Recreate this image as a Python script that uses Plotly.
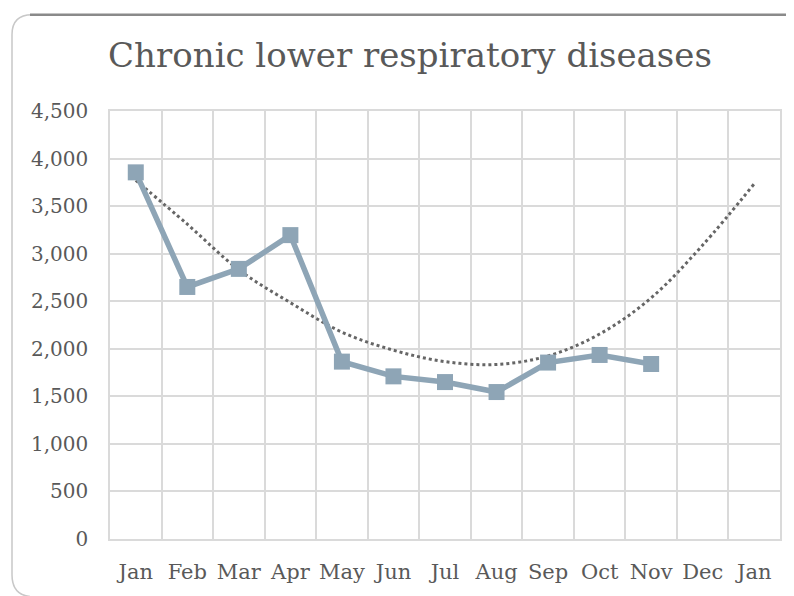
import plotly.graph_objects as go

months = ["Jan", "Feb", "Mar", "Apr", "May", "Jun", "Jul", "Aug", "Sep", "Oct", "Nov", "Dec", "Jan"]
deaths = [3855, 2650, 2840, 3195, 1865, 1710, 1650, 1545, 1855, 1935, 1840]
# polynomial trendline as drawn in the reference (read at each category)
trend = [3770, 3310, 2830, 2485, 2175, 1985, 1865, 1835, 1925, 2155, 2535, 3090, 3735]
title_text = "Chronic lower respiratory diseases"
y_ticks = [0, 500, 1000, 1500, 2000, 2500, 3000, 3500, 4000, 4500]

OFF = 8                      # page body margin
W, H = 794 - OFF, 596 - OFF
L, R, T, B = 102, 14, 103, 54
PW, PH = W - L - R, H - T - B

def px(xs):                  # screen pixel -> paper x
    return (xs - OFF - L) / PW

def py(ys):                  # screen pixel -> paper y
    return (H - B - (ys - OFF)) / PH

fig = go.Figure()
fig.add_trace(go.Scatter(x=list(range(len(trend))), y=trend, mode="lines",
                         line=dict(color="#666666", width=3, dash="dot", shape="spline", smoothing=1.0),
                         hoverinfo="skip", showlegend=False))
fig.add_trace(go.Scatter(x=list(range(len(deaths))), y=deaths, mode="lines+markers",
                         line=dict(color="#8ea5b6", width=5.5),
                         marker=dict(symbol="square", size=16, color="#8ea5b6"),
                         showlegend=False))

grid = "#dadada"
fig.update_layout(
    width=W, height=H,
    margin=dict(l=L, r=R, t=T, b=B),
    paper_bgcolor="white", plot_bgcolor="white",
    title=dict(text=title_text, xref="container", x=(410 - OFF) / W, xanchor="center",
               yref="container", y=1 - (55 - OFF) / H, yanchor="middle",
               font=dict(family="DejaVu Serif", size=34, color="#595959")),
    font=dict(family="DejaVu Serif", size=20, color="#595959"),
    xaxis=dict(range=[-0.5, len(months) - 0.5], tickmode="array",
               tickvals=list(range(len(months))), ticktext=months,
               tickfont=dict(size=21),
               showgrid=False, zeroline=False,
               ticks="outside", ticklen=13, tickcolor="rgba(0,0,0,0)",
               showline=True, linecolor=grid, linewidth=1.5, mirror=True,
               minor=dict(tickvals=[i - 0.5 for i in range(len(months) + 1)],
                          showgrid=True, gridcolor=grid, gridwidth=1.5, ticks="")),
    yaxis=dict(range=[0, 4500], tickmode="array", tickvals=y_ticks,
               ticktext=[f"{v:,}" for v in y_ticks],
               showgrid=True, gridcolor=grid, gridwidth=1.5, zeroline=False,
               ticks="outside", ticklen=16, tickcolor="rgba(0,0,0,0)",
               showline=True, linecolor=grid, linewidth=1.5, mirror=True),
)

# rounded frame of the embedded chart
fig.add_shape(type="path", xref="paper", yref="paper",
              path=(f"M {px(30)},{py(600)} Q {px(12)},{py(598)} {px(12)},{py(578)} "
                    f"L {px(12)},{py(34)} Q {px(12)},{py(14)} {px(32)},{py(14)}"),
              line=dict(color="#c8c8c8", width=1.5), layer="below")
fig.add_shape(type="line", xref="paper", yref="paper",
              x0=px(30), x1=px(790), y0=py(14), y1=py(14),
              line=dict(color="#8a8a8a", width=2.5), layer="below")

fig.write_html("out.html")
